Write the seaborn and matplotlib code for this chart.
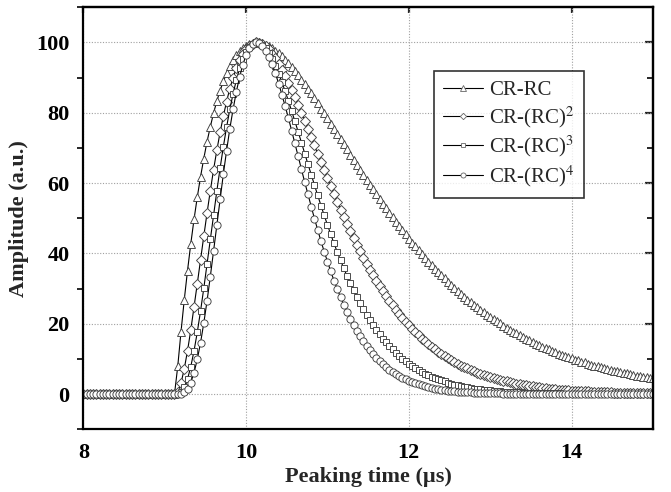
import numpy as np
import pandas as pd
import matplotlib
matplotlib.use("Agg")
import matplotlib.pyplot as plt
import seaborn as sns
from matplotlib.lines import Line2D
from matplotlib.ticker import MultipleLocator

sns.set_theme(style="white")
plt.rcParams["font.family"] = ["Liberation Serif", "DejaVu Serif"]
plt.rcParams["mathtext.fontset"] = "stix"

# ---------------- data ----------------
# sampling grid: 8.00 ... 15.00 us, 0.04 us step
time_us = np.round(np.linspace(8.0, 15.0, 176), 2)

cr_rc = [
    0, 0, 0, 0, 0, 0, 0, 0, 0, 0, 0, 0, 0, 0, 0, 0, 0, 0, 0, 0, 0, 0, 0, 0, 0, 0, 0, 0, 0,
    7.9, 17.7, 26.8, 35.1, 42.7, 49.7, 56.0, 61.8, 67.0, 71.8,
    76.0, 79.9, 83.3, 86.3, 88.9, 91.2, 93.2, 94.9, 96.3, 97.5,
    98.4, 99.1, 99.6, 99.9, 100.0, 100.0, 99.8, 99.4, 99.0, 98.4,
    97.7, 97.0, 96.1, 95.1, 94.1, 93.0, 91.9, 90.7, 89.4, 88.1,
    86.8, 85.5, 84.1, 82.7, 81.2, 79.8, 78.4, 76.9, 75.4, 74.0,
    72.5, 71.0, 69.6, 68.1, 66.6, 65.2, 63.7, 62.3, 60.9, 59.5,
    58.2, 56.8, 55.5, 54.1, 52.8, 51.5, 50.3, 49.0, 47.8, 46.6,
    45.4, 44.2, 43.1, 42.0, 40.9, 39.8, 38.7, 37.7, 36.7, 35.7,
    34.7, 33.8, 32.9, 32.0, 31.1, 30.2, 29.4, 28.5, 27.7, 26.9,
    26.2, 25.4, 24.7, 24.0, 23.3, 22.6, 21.9, 21.3, 20.7, 20.1,
    19.5, 18.9, 18.3, 17.8, 17.3, 16.8, 16.2, 15.7, 15.3, 14.8,
    14.4, 13.9, 13.5, 13.1, 12.7, 12.3, 11.9, 11.5, 11.2, 10.8,
    10.5, 10.2, 9.8, 9.6, 9.2, 9.0, 8.7, 8.4, 8.1, 7.9,
    7.6, 7.4, 7.1, 6.9, 6.7, 6.5, 6.2, 6.1, 5.9, 5.7,
    5.5, 5.3, 5.1, 5.0, 4.8, 4.7, 4.5,
]

cr_rc2 = [
    0, 0, 0, 0, 0, 0, 0, 0, 0, 0, 0, 0, 0, 0, 0, 0, 0, 0, 0, 0, 0, 0, 0, 0, 0, 0, 0, 0, 0,
    0.6, 3.1, 7.2, 12.3, 18.2, 24.7, 31.4, 38.2, 44.9, 51.5,
    57.8, 63.8, 69.3, 74.4, 79.0, 83.2, 86.9, 90.0, 92.7, 95.0,
    96.8, 98.2, 99.1, 99.7, 100.0, 99.9, 99.5, 98.9, 98.0, 96.8,
    95.5, 94.0, 92.3, 90.5, 88.6, 86.5, 84.4, 82.2, 80.0, 77.7,
    75.4, 73.0, 70.7, 68.3, 66.0, 63.7, 61.4, 59.1, 56.9, 54.7,
    52.5, 50.4, 48.4, 46.3, 44.4, 42.5, 40.6, 38.8, 37.1, 35.4,
    33.8, 32.3, 30.7, 29.3, 27.9, 26.5, 25.3, 24.0, 22.8, 21.7,
    20.6, 19.6, 18.6, 17.6, 16.7, 15.8, 15.0, 14.2, 13.5, 12.7,
    12.1, 11.4, 10.8, 10.2, 9.6, 9.1, 8.6, 8.1, 7.7, 7.3,
    6.8, 6.5, 6.1, 5.7, 5.4, 5.1, 4.8, 4.5, 4.3, 4.0,
    3.8, 3.6, 3.4, 3.2, 3.0, 2.8, 2.6, 2.5, 2.3, 2.2,
    2.1, 1.9, 1.8, 1.7, 1.6, 1.5, 1.4, 1.3, 1.2, 1.2,
    1.1, 1.0, 1.0, 0.9, 0.9, 0.8, 0.8, 0.7, 0.7, 0.6,
    0.6, 0.5, 0.5, 0.5, 0.4, 0.4, 0.4, 0.4, 0.3, 0.3,
    0.3, 0.3, 0.3, 0.2, 0.2, 0.2, 0.2,
]

cr_rc3 = [
    0, 0, 0, 0, 0, 0, 0, 0, 0, 0, 0, 0, 0, 0, 0, 0, 0, 0, 0, 0, 0, 0, 0, 0, 0, 0, 0, 0, 0,
    0.0, 0.6, 1.9, 4.3, 7.8, 12.3, 17.6, 23.6, 30.1, 37.0,
    44.0, 50.9, 57.7, 64.2, 70.3, 75.9, 81.0, 85.4, 89.3, 92.6,
    95.2, 97.3, 98.7, 99.6, 100.0, 99.9, 99.3, 98.3, 97.0, 95.3,
    93.3, 91.1, 88.7, 86.1, 83.4, 80.5, 77.6, 74.6, 71.5, 68.4,
    65.4, 62.4, 59.4, 56.5, 53.6, 50.8, 48.1, 45.4, 42.9, 40.4,
    38.1, 35.8, 33.6, 31.5, 29.6, 27.7, 25.9, 24.2, 22.6, 21.1,
    19.7, 18.3, 17.0, 15.8, 14.7, 13.7, 12.7, 11.8, 10.9, 10.1,
    9.4, 8.7, 8.0, 7.4, 6.8, 6.3, 5.8, 5.4, 4.9, 4.6,
    4.2, 3.9, 3.6, 3.3, 3.0, 2.7, 2.5, 2.3, 2.1, 2.0,
    1.8, 1.6, 1.5, 1.4, 1.3, 1.2, 1.1, 1.0, 0.9, 0.8,
    0.7, 0.7, 0.6, 0.6, 0.5, 0.5, 0.4, 0.4, 0.4, 0.3,
    0.3, 0.3, 0.2, 0.2, 0.2, 0.2, 0.2, 0.2, 0.1, 0.1,
    0.1, 0.1, 0.1, 0.1, 0.1, 0.1, 0.1, 0.1, 0.1, 0.0,
    0, 0, 0, 0, 0, 0, 0, 0, 0, 0,
    0, 0, 0, 0, 0, 0, 0,
]

cr_rc4 = [
    0, 0, 0, 0, 0, 0, 0, 0, 0, 0, 0, 0, 0, 0, 0, 0, 0, 0, 0, 0, 0, 0, 0, 0, 0, 0, 0, 0, 0,
    0.0, 0.1, 0.5, 1.5, 3.3, 6.1, 9.9, 14.6, 20.2, 26.5,
    33.4, 40.7, 48.0, 55.4, 62.5, 69.2, 75.5, 81.0, 86.0, 90.2,
    93.7, 96.4, 98.3, 99.5, 100.0, 99.8, 99.1, 97.7, 96.0, 93.8,
    91.2, 88.3, 85.2, 81.9, 78.5, 74.9, 71.3, 67.6, 63.9, 60.3,
    56.8, 53.3, 49.9, 46.7, 43.5, 40.5, 37.7, 34.9, 32.3, 29.9,
    27.6, 25.4, 23.4, 21.5, 19.7, 18.0, 16.5, 15.1, 13.8, 12.6,
    11.4, 10.4, 9.5, 8.6, 7.8, 7.0, 6.4, 5.8, 5.2, 4.7,
    4.2, 3.8, 3.5, 3.1, 2.8, 2.5, 2.3, 2.0, 1.8, 1.6,
    1.5, 1.3, 1.2, 1.0, 0.9, 0.8, 0.7, 0.7, 0.6, 0.5,
    0.5, 0.4, 0.4, 0.3, 0.3, 0.3, 0.2, 0.2, 0.2, 0.2,
    0.1, 0.1, 0.1, 0.1, 0.1, 0.1, 0.1, 0.1, 0.1, 0.0,
    0, 0, 0, 0, 0, 0, 0, 0, 0, 0,
    0, 0, 0, 0, 0, 0, 0, 0, 0, 0,
    0, 0, 0, 0, 0, 0, 0, 0, 0, 0,
    0, 0, 0, 0, 0, 0, 0,
]

series_names = ["CR-RC", "CR-(RC)$^2$", "CR-(RC)$^3$", "CR-(RC)$^4$"]
series_values = [cr_rc, cr_rc2, cr_rc3, cr_rc4]
series_markers = ["^", "D", "s", "o"]
x_ticks = [8, 10, 12, 14]
y_ticks = [0, 20, 40, 60, 80, 100]

# ---------------- table ----------------
frames = []
for name, vals in zip(series_names, series_values):
    n = min(len(vals), len(time_us))
    frames.append(pd.DataFrame({"time": time_us[:n], "amp": np.asarray(vals[:n], float), "filter": name}))
df = pd.concat(frames, ignore_index=True)

# ---------------- figure ----------------
fig = plt.figure(figsize=(6.71, 4.92), dpi=100)
ax = fig.add_axes([0.1242, 0.1274, 0.8490, 0.8578])
ax.set_facecolor("white")

msizes = {"^": 6.0, "D": 4.6, "s": 4.4, "o": 5.2}
for name, mk in zip(series_names, series_markers):
    sub = df[df["filter"] == name]
    sns.lineplot(data=sub, x="time", y="amp", ax=ax, estimator=None, sort=False,
                 color="black", linewidth=0.8, marker=mk, markersize=msizes[mk],
                 markerfacecolor="white", markeredgecolor="#404040",
                 markeredgewidth=0.65, legend=False)

ax.set_xlim(8, 15)
ax.set_ylim(-10, 110)
ax.set_xticks(x_ticks)
ax.set_yticks(y_ticks)
ax.yaxis.set_minor_locator(MultipleLocator(10))
ax.grid(True, which="major", linestyle=(0, (1, 1.5)), color="#a0a0a0", linewidth=0.8)

for sp in ax.spines.values():
    sp.set_color("black")
    sp.set_linewidth(1.6)

ax.tick_params(axis="both", which="major", direction="out", length=7, width=1.6,
               labelsize=16, colors="black", pad=3)
ax.tick_params(axis="y", which="minor", direction="out", length=4.5, width=1.4, left=True)
ax.tick_params(axis="x", which="minor", bottom=False)
for lab in ax.get_xticklabels() + ax.get_yticklabels():
    lab.set_fontweight("bold")

# inward ticks on the right and top sides
sec_y = ax.secondary_yaxis("right")
sec_y.set_yticks(y_ticks)
sec_y.yaxis.set_minor_locator(MultipleLocator(10))
sec_y.tick_params(which="major", direction="in", length=6, width=1.6, labelright=False)
sec_y.tick_params(which="minor", direction="in", length=4, width=1.4)
sec_y.spines["right"].set_linewidth(1.6)
sec_x = ax.secondary_xaxis("top")
sec_x.set_xticks(x_ticks)
sec_x.tick_params(which="major", direction="in", length=4, width=1.6, labeltop=False)
sec_x.tick_params(which="minor", top=False)
sec_x.spines["top"].set_linewidth(1.6)

ax.set_xlabel("Peaking time (\u00b5s)", fontsize=16, fontweight="bold", labelpad=3)
ax.set_ylabel("Amplitude (a.u.)", fontsize=16, fontweight="bold", labelpad=5)

handles = [Line2D([], [], color="black", linewidth=0.8, marker=mk, markersize=msizes[mk] * 0.7,
                  markerfacecolor="white", markeredgecolor="#666666", markeredgewidth=0.6)
           for mk in series_markers]
leg = ax.legend(handles, series_names, loc="upper left", bbox_to_anchor=(0.6156, 0.849),
                borderaxespad=0, frameon=True, fancybox=False, edgecolor="black",
                fontsize=15, handlelength=1.9, handletextpad=0.3, labelspacing=0.2,
                borderpad=0.45)
leg.get_frame().set_linewidth(1.2)

fig.savefig("out.png", dpi=100)
